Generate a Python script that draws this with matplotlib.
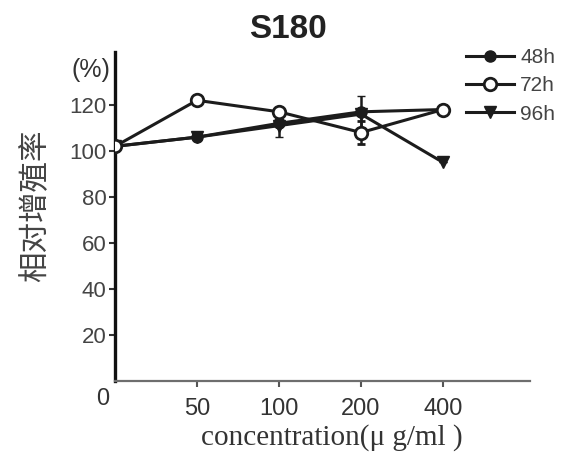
import matplotlib
matplotlib.use("Agg")
import matplotlib.pyplot as plt
from matplotlib.lines import Line2D
from matplotlib import font_manager

names = {f.name for f in font_manager.fontManager.ttflist}
NARROW = ['Liberation Sans Narrow', 'Liberation Sans'] if 'Liberation Sans Narrow' in names else ['Liberation Sans']

# ---- data ----
categories = ['0', '50', '100', '200', '400']
h48 = [102, 106, 112, 117, 118]
h72 = [102, 122, 117, 108, 118]
h96 = [102, 106, 111, 116, 95]
err48 = [0, 0, 6, 7, 0]
err72 = [0, 0, 0, 5, 2]
err96 = [0, 0, 0, 0, 0]
yticks = [20, 40, 60, 80, 100, 120]
series_labels = ['48h', '72h', '96h']
title = 'S180'
ylabel = '相对增殖率'
xlabel = 'concentration(μ g/ml )'

fig = plt.figure(figsize=(5.61, 4.55), dpi=100)
ax = fig.add_axes([115/561, 1-381/455, (530-115)/561, (381-52)/455])

x = list(range(len(categories)))
lc = '#1c1c1c'
styles = [
    dict(marker='o', ms=8, mfc=lc, mec=lc, mew=1),
    dict(marker='o', ms=9, mfc='white', mec=lc, mew=2),
    dict(marker='v', ms=9, mfc=lc, mec=lc, mew=1),
]
for ys, es, st, lab, z in zip([h48, h72, h96], [err48, err72, err96], styles, series_labels, [3, 4, 3]):
    ax.errorbar(x, ys, yerr=es, color=lc, lw=2.2, capsize=3, elinewidth=1.8, zorder=z, **st)

ax.set_xlim(0, 5.06)
ax.set_ylim(0, 143)
ax.spines['top'].set_visible(False)
ax.spines['right'].set_visible(False)
ax.spines['left'].set_linewidth(2.4)
ax.spines['left'].set_color('#111111')
ax.spines['bottom'].set_linewidth(1.6)
ax.spines['bottom'].set_color('#6e6e6e')

ax.set_xticks(x[1:])
ax.set_xticklabels(categories[1:], fontfamily=NARROW, fontsize=17, color='#333333')
ax.set_yticks(yticks)
ax.set_yticklabels([str(v) for v in yticks], fontfamily=NARROW, fontsize=16, color='#444444')
ax.tick_params(axis='x', direction='out', length=4, width=1.5, pad=8, colors='#555555', labelcolor='#333333')
ax.tick_params(axis='y', direction='out', length=4, width=1.5, pad=2, colors='#333333', labelcolor='#444444')

# origin "0"
fig.text(103/561, 1-399/455, categories[0], ha='center', va='center', fontfamily=NARROW,
         fontsize=17, color='#333333')
# (%)
fig.text(110/561, 1-70/455, '(%)', ha='right', va='center', fontfamily=NARROW, fontsize=18,
         color='#333333')
# title
fig.text(288/561, 1-30/455, title, ha='center', va='center', fontfamily=['Liberation Sans'],
         fontsize=24, fontweight='bold', color='#222222')
# y label
fig.text(36/561, 1-206/455, ylabel, ha='center', va='center', rotation=90,
         fontfamily=['Noto Sans CJK SC', 'DejaVu Sans'], fontsize=22, color='#444444')
# x label
fig.text(332/561, 1-438/455, xlabel, ha='center', va='center',
         fontfamily=['Liberation Serif', 'DejaVu Serif'], fontsize=21, color='#333333')

handles = [Line2D([], [], color=lc, lw=2.2, **st) for st in styles]
leg = fig.legend(handles, series_labels, loc='upper left', bbox_to_anchor=(466/561, 1-48/455),
                 frameon=False, prop={'family': NARROW, 'size': 15}, handlelength=2.3,
                 handletextpad=0.3, labelspacing=0.45, borderaxespad=0, borderpad=0)
for t in leg.get_texts():
    t.set_color('#444444')

fig.savefig('out.png', dpi=100)
